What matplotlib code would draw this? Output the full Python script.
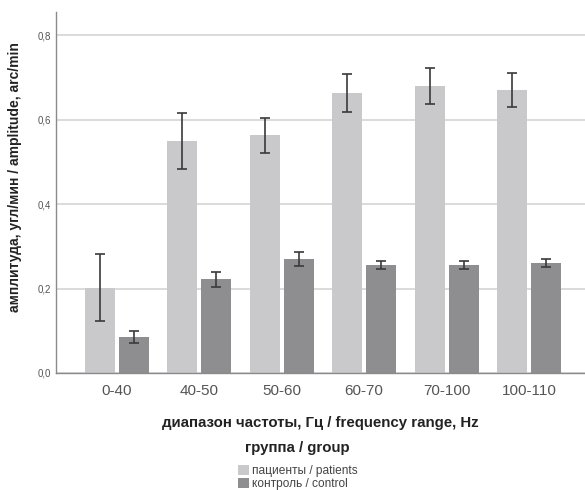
import numpy as np
import matplotlib
matplotlib.use("Agg")
import matplotlib.pyplot as plt

plt.rcParams['font.family'] = ['Liberation Sans', 'DejaVu Sans']

# средние значения и ошибки по диапазонам частот
ranges = ["0-40", "40-50", "50-60", "60-70", "70-100", "100-110"]
patients = [0.202, 0.550, 0.563, 0.662, 0.680, 0.671]
patients_err = [0.080, 0.066, 0.042, 0.045, 0.042, 0.040]
control = [0.086, 0.222, 0.270, 0.256, 0.256, 0.261]
control_err = [0.014, 0.018, 0.017, 0.010, 0.009, 0.010]
yticks = [0.0, 0.2, 0.4, 0.6, 0.8]

x = np.arange(len(ranges))
w = 0.365
off = 0.206

fig = plt.figure(figsize=(5.85, 4.9), dpi=100)
ax = fig.add_axes([0.0957, 0.2388, 0.9043, 0.7367])

err_kw = dict(ecolor="#3a3a3a", elinewidth=1.2, capsize=3.5, capthick=1.2)
b1 = ax.bar(x - off, patients, w, yerr=patients_err, color="#c9c9cb",
            label="пациенты / patients", error_kw=err_kw, zorder=2)
b2 = ax.bar(x + off, control, w, yerr=control_err, color="#8e8e90",
            label="контроль / control", error_kw=err_kw, zorder=2)

ax.set_xlim(-0.74, 5.68)
ax.set_ylim(0, 0.855)
ax.set_yticks(yticks)
ax.set_yticklabels([("%.1f" % v).replace(".", ",") for v in yticks],
                   fontsize=7, color="#555555")
ax.set_xticks(x)
ax.set_xticklabels(ranges, fontsize=11, color="#555555")
ax.tick_params(length=0)
ax.tick_params(axis="x", pad=8)
ax.grid(axis="y", color="#d4d4d4", linewidth=1.2, zorder=0)
ax.set_axisbelow(True)
for s in ["top", "right"]:
    ax.spines[s].set_visible(False)
for s in ["left", "bottom"]:
    ax.spines[s].set_color("#8a8a8a")
    ax.spines[s].set_linewidth(1.0)

ax.set_ylabel("амплитуда, угл/мин / amplitude, arc/min", fontsize=10,
              fontweight="bold", color="#222222")
ax.yaxis.set_label_coords(-0.064, 0.543)
ax.set_xlabel("диапазон частоты, Гц / frequency range, Hz", fontsize=10.8,
              fontweight="bold", color="#222222", labelpad=13)

leg = fig.legend(handles=[b1, b2], loc="upper center",
                 bbox_to_anchor=(0.509, 0.119), title="группа / group",
                 frameon=False, fontsize=8.6, handlelength=0.9,
                 handleheight=0.95, handletextpad=0.25, labelspacing=0.05,
                 borderpad=0.3,
                 title_fontproperties={"weight": "bold", "size": 10.8})
leg._legend_box.sep = 7
for t in leg.get_texts():
    t.set_color("#444444")
leg.get_title().set_color("#222222")

fig.savefig("out.png", dpi=100)
